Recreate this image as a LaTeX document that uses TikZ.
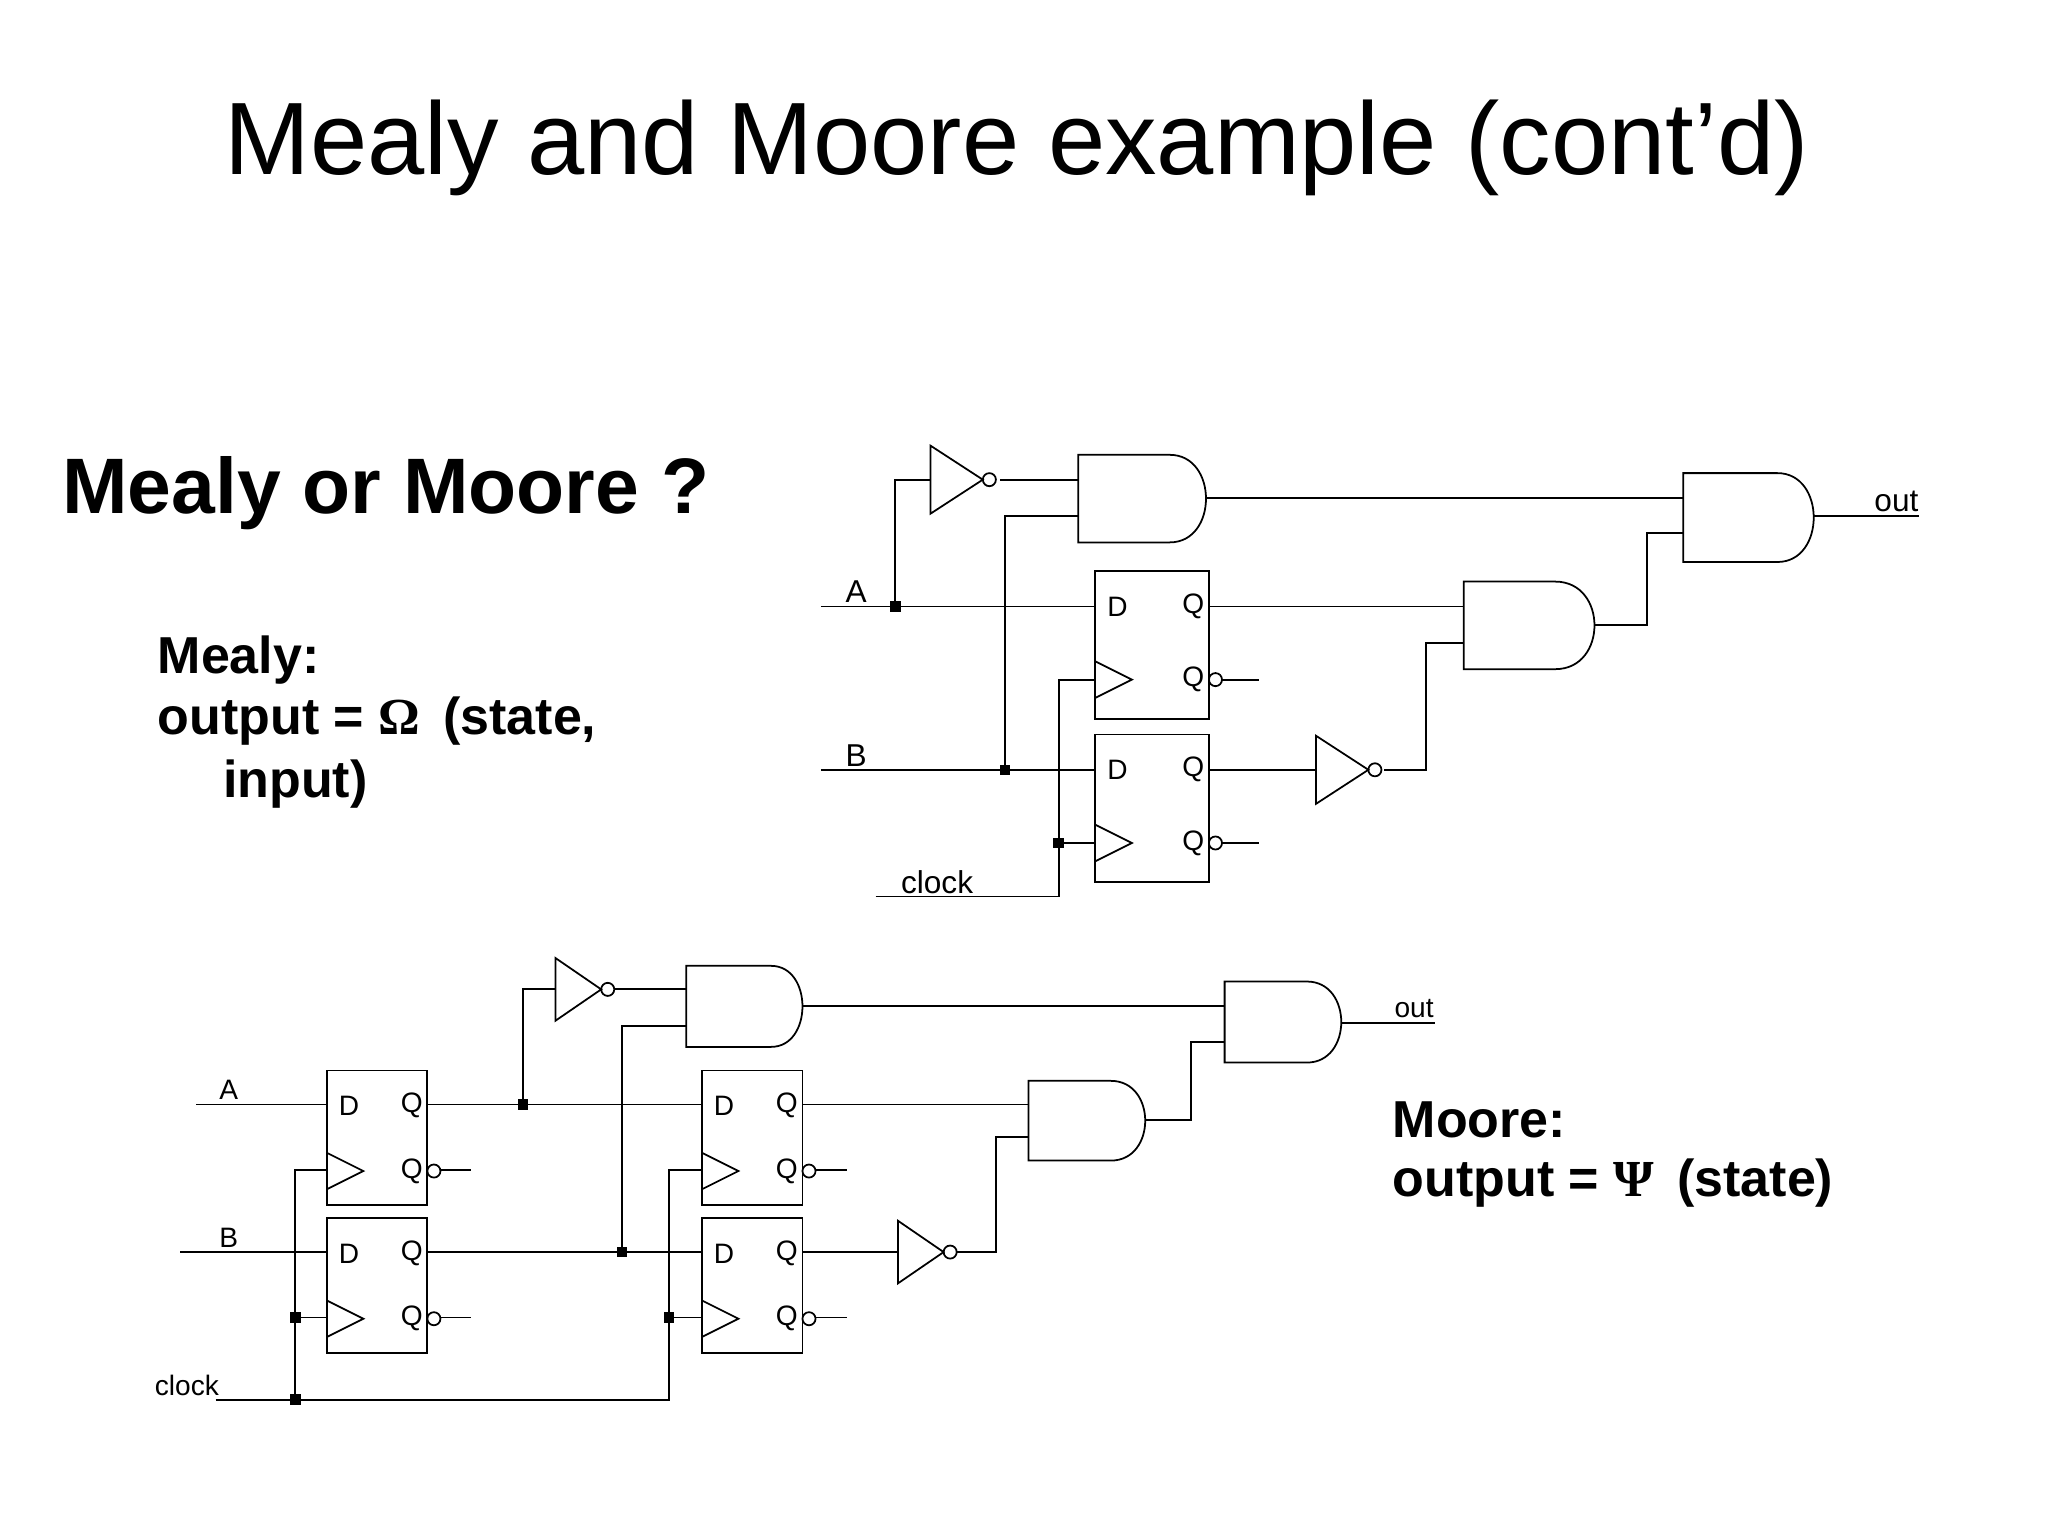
\documentclass[tikz,border=0pt]{standalone}
\usepackage{fontspec}
\setmainfont{Liberation Sans}
\newfontfamily\symfont{Liberation Serif}
\begin{document}
\begin{tikzpicture}[x=0.01307cm,y=-0.01307cm,line width=0.5pt,
  lbl/.style={font=\fontsize{8}{9}\selectfont,inner sep=0pt},
  big/.style={font=\bfseries\fontsize{14.8}{18}\selectfont,anchor=west,inner sep=0pt},
  dot/.style={fill,minimum size=3pt,inner sep=0pt,draw=none}]
\useasboundingbox (0,0) rectangle (1567,1175);
% AND gate: x0, xf, top, bot, control x
\newcommand\gAND[5]{\draw (#1,#3) -- (#2,#3) .. controls (#5,#3) and (#5,#4) .. (#2,#4) -- (#1,#4) -- cycle;}
% inverter: x0, x1, yc, half height
\newcommand\gNOT[4]{\draw (#1,#3-#4) -- (#2,#3) -- (#1,#3+#4) -- cycle; \draw (#2+5,#3) circle[radius=5];}
% flip-flop: x0, y0, w, h, dy (D to Q-bar)
\newcommand\gDFF[5]{\draw (#1,#2) rectangle (#1+#3,#2+#4);
  \node[lbl] at (#1+17,#2+27) {D}; \node[lbl] at (#1+#3-12,#2+27) {Q};
  \node[lbl] at (#1+#3-12,#2+27+#5) {Q};
  \draw (#1,#2+27+#5-14) -- (#1+28,#2+27+#5) -- (#1,#2+27+#5+14);
  \draw (#1+#3+5,#2+27+#5) circle[radius=5];}

\node[font=\fontsize{29.3}{33}\selectfont] (title) at (778,113) {Mealy and Moore example (cont’d)};
\node[font=\bfseries\fontsize{22.4}{26}\selectfont,anchor=west] (q) at (38,377) {Mealy or Moore ?};
\node[big] (m1) at (120,505) {Mealy:};
\node[big] (m2) at (120,552) {output = {\symfont Ω}\, (state,};
\node[big] (m3) at (170,600) {input)};
\node[big] (o1) at (1065,857) {Moore:};
\node[big] (o2) at (1065,905) {output = {\symfont Ψ}\, (state)};

% ---------- Mealy circuit ----------
\gNOT{712}{752}{367}{26}
\gAND{825}{895}{348}{415}{932}
\gAND{1288}{1360}{362}{430}{1397}
\gAND{1120}{1190}{445}{512}{1230}
\gDFF{838}{437}{87}{113}{56}
\gDFF{838}{562}{87}{113}{56}
\gNOT{1007}{1047}{589}{26}
\draw (765,367) -- (825,367);
\draw (923,381) -- (1288,381);
\draw (1388,395) -- (1468,395);
\node[lbl,font=\fontsize{9}{10}\selectfont] (out1) at (1451,384) {out};
\draw (628,464) -- (838,464);
\node[lbl,font=\fontsize{9}{10}\selectfont] (a1) at (655,453) {A};
\draw (685,464) -- (685,367) -- (712,367);
\node[dot] at (685,464) {};
\draw (925,464) -- (1120,464);
\draw (1220,478) -- (1260,478) -- (1260,408) -- (1288,408);
\draw (628,589) -- (838,589);
\node[lbl,font=\fontsize{9}{10}\selectfont] (b1) at (655,578) {B};
\draw (769,589) -- (769,395) -- (825,395);
\node[dot] at (769,589) {};
\draw (925,589) -- (1007,589);
\draw (1059,589) -- (1091,589) -- (1091,492) -- (1120,492);
\draw (935,520) -- (963,520); \draw (935,645) -- (963,645);
\draw (670,686) -- (810,686) -- (810,520) -- (838,520);
\draw (810,645) -- (838,645);
\node[dot] at (810,645) {};
\node[lbl,font=\fontsize{9}{10}\selectfont] (c1) at (717,675) {clock};

% ---------- Moore circuit ----------
\gDFF{250}{819}{77}{103}{50}
\gDFF{250}{932}{77}{103}{50}
\gDFF{537}{819}{77}{103}{50}
\gDFF{537}{932}{77}{103}{50}
\gNOT{425}{460}{757}{24}
\gNOT{687}{722}{958}{24}
\gAND{525}{590}{739}{801}{622}
\gAND{787}{850}{827}{888}{885}
\gAND{937}{1000}{751}{813}{1035}
\draw (150,845) -- (250,845);
\node[lbl] (a2) at (175,834) {A};
\draw (138,958) -- (250,958);
\node[lbl] (b2) at (175,947) {B};
\draw (165,1071) -- (512,1071) -- (512,895) -- (537,895);
\draw (226,1071) -- (226,895) -- (250,895);
\draw (226,1008) -- (250,1008);
\draw (512,1008) -- (537,1008);
\node[dot] at (226,1071) {}; \node[dot] at (226,1008) {}; \node[dot] at (512,1008) {};
\node[lbl] (c2) at (143,1060) {clock};
\draw (327,845) -- (537,845);
\draw (400,845) -- (400,757) -- (425,757);
\node[dot] at (400,845) {};
\draw (470,757) -- (525,757);
\draw (327,958) -- (537,958);
\draw (476,958) -- (476,785) -- (525,785);
\node[dot] at (476,958) {};
\draw (614,770) -- (937,770);
\draw (614,845) -- (787,845);
\draw (876,857) -- (911,857) -- (911,797) -- (937,797);
\draw (1026,783) -- (1098,783);
\node[lbl] (out2) at (1082,772) {out};
\draw (614,958) -- (687,958);
\draw (732,958) -- (762,958) -- (762,870) -- (787,870);
\draw (337,895) -- (360,895); \draw (337,1008) -- (360,1008);
\draw (624,895) -- (648,895); \draw (624,1008) -- (648,1008);
\end{tikzpicture}
\end{document}
